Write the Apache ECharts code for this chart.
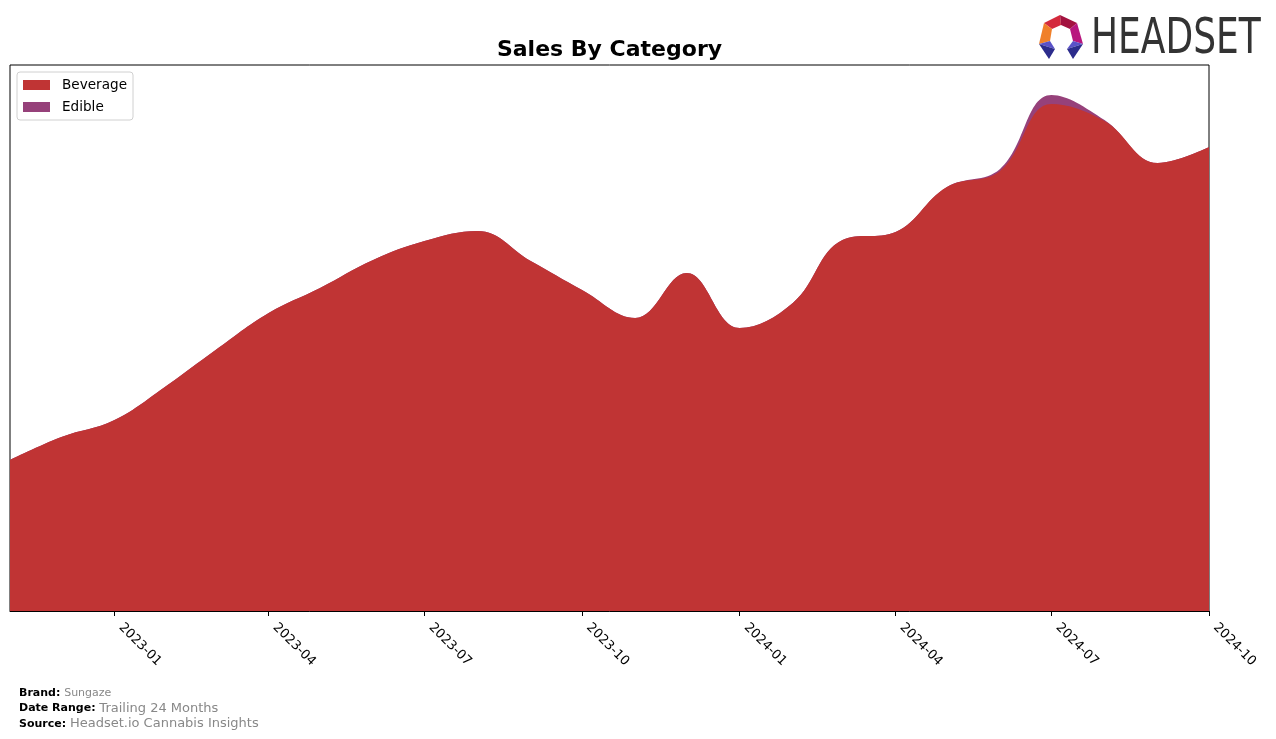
<!DOCTYPE html>
<html>
<head>
<meta charset="utf-8">
<script src="https://cdn.jsdelivr.net/npm/echarts@6/dist/echarts.min.js"></script>
<style>
html,body{margin:0;padding:0;background:#fff;}
#chart{width:1276px;height:739px;}
</style>
</head>
<body>
<div id="chart"></div>
<script>
// ---- data ----
const months = ['2022-11-01','2022-12-01','2023-01-01','2023-02-01','2023-03-01','2023-04-01',
  '2023-05-01','2023-06-01','2023-07-01','2023-08-01','2023-09-01','2023-10-01',
  '2023-11-01','2023-12-01','2024-01-01','2024-02-01','2024-03-01','2024-04-01',
  '2024-05-01','2024-06-01','2024-07-01','2024-08-01','2024-09-01','2024-10-01'];
const beverage = [151,174,191,226,261,298,323,351,370,380,350,321,293,338,283,308,371,379,424,440,507,490,448,464];
const edible   = [0,0,0,0,0,0,0,0,0,0,0,0,0,0,0,0,0,0,0,2,9,1,0,0];
const tickLabels = ['2023-01','2023-04','2023-07','2023-10','2024-01','2024-04','2024-07','2024-10'];

const FONT = 'DejaVu Sans';
function ts(s){ const p = s.split('-').map(Number); return Date.UTC(p[0], p[1]-1, p[2]||1); }
const tickTs = tickLabels.map(t => ts(t + '-01'));
const labelMap = {};
tickTs.forEach((t,i)=>{ labelMap[t] = tickLabels[i]; });
// stacked top of Edible (drawn beneath Beverage)
const edibleTop = beverage.map((b,i)=> b + edible[i]);

const SMOOTH = 0.4;
const chart = echarts.init(document.getElementById('chart'), null, {renderer:'canvas'});
const option = {
  animation:false,
  textStyle:{fontFamily:FONT},
  grid:{left:10, top:65, width:1199, height:546, show:true, borderColor:'#000', borderWidth:1, backgroundColor:'transparent'},
  legend:{
    orient:'vertical', left:17, top:72,
    data:['Beverage','Edible'],
    icon:'rect', itemWidth:27, itemHeight:10, itemGap:8,
    backgroundColor:'#fff', borderColor:'#d0d0d0', borderWidth:1, borderRadius:3,
    padding:[6,6,6,6],
    textStyle:{fontFamily:FONT, fontSize:13.6, color:'#000', padding:[0,0,0,7]}
  },
  xAxis:{
    type:'value', min:ts('2022-11-01'), max:ts('2024-10-01'),
    axisLine:{show:true, onZero:false, lineStyle:{color:'#000', width:1}},
    axisTick:{show:true, length:5, lineStyle:{color:'#000'}, customValues:tickTs},
    axisLabel:{
      customValues:tickTs, rotate:-45, margin:8, color:'#000', fontFamily:FONT, fontSize:13,
      padding:[0,0,0,9],
      showMinLabel:true, showMaxLabel:true,
      formatter:function(v){ return labelMap[v] !== undefined ? labelMap[v] : ''; }
    },
    splitLine:{show:false}
  },
  yAxis:{type:'value', min:0, max:546, show:false},
  series:[
    {name:'Edible', type:'line', smooth:SMOOTH, symbol:'none', z:2,
     lineStyle:{width:0}, itemStyle:{color:'#96417a'},
     areaStyle:{color:'#96417a', opacity:1},
     data: months.map((m,i)=>[ts(m), edibleTop[i]])},
    {name:'Beverage', type:'line', smooth:SMOOTH, symbol:'none', z:3,
     lineStyle:{width:0}, itemStyle:{color:'#c03434'},
     areaStyle:{color:'#c03434', opacity:1},
     data: months.map((m,i)=>[ts(m), beverage[i]])}
  ],
  graphic:[
    {type:'text', x:609.5, y:50, style:{text:'Sales By Category', font:'bold 22px "DejaVu Sans"', fill:'#000', textAlign:'center', textVerticalAlign:'middle'}},
    {type:'text', x:19, y:685, style:{
      text:'{b|Brand:} {s|Sungaze}\n{b|Date Range:} {v|Trailing 24 Months}\n{b|Source:} {v|Headset.io Cannabis Insights}',
      fontFamily:FONT, lineHeight:15.5,
      rich:{
        b:{font:'bold 11px "DejaVu Sans"', fill:'#000', lineHeight:15.5},
        s:{font:'11px "DejaVu Sans"', fill:'#888', lineHeight:15.5},
        v:{font:'13px "DejaVu Sans"', fill:'#888', lineHeight:15.5}
      }}},
    // logo icon
    {type:'polygon', shape:{points:[[1044,23],[1060,15],[1061,25],[1052,29]]}, style:{fill:'#d42a3c'}},
    {type:'polygon', shape:{points:[[1060,15],[1077,23],[1070,29],[1061,25]]}, style:{fill:'#a3123f'}},
    {type:'polygon', shape:{points:[[1044,23],[1052,29],[1050,41],[1039,44]]}, style:{fill:'#f0802a'}},
    {type:'polygon', shape:{points:[[1077,23],[1083,44],[1073,41],[1070,29]]}, style:{fill:'#b8177e'}},
    {type:'polygon', shape:{points:[[1039,44],[1050,41],[1055,49]]}, style:{fill:'#5a52c8'}},
    {type:'polygon', shape:{points:[[1039,44],[1055,49],[1049,59]]}, style:{fill:'#2c2c8c'}},
    {type:'polygon', shape:{points:[[1083,44],[1073,41],[1067,49]]}, style:{fill:'#5a52c8'}},
    {type:'polygon', shape:{points:[[1083,44],[1067,49],[1073,59]]}, style:{fill:'#2c2c8c'}},
    {type:'text', x:1091, y:40, scaleX:0.72, style:{text:'HEADSET', font:'50px "DejaVu Sans"', fill:'#333', textVerticalAlign:'middle'}}
  ]
};
chart.setOption(option);
</script>
</body>
</html>
